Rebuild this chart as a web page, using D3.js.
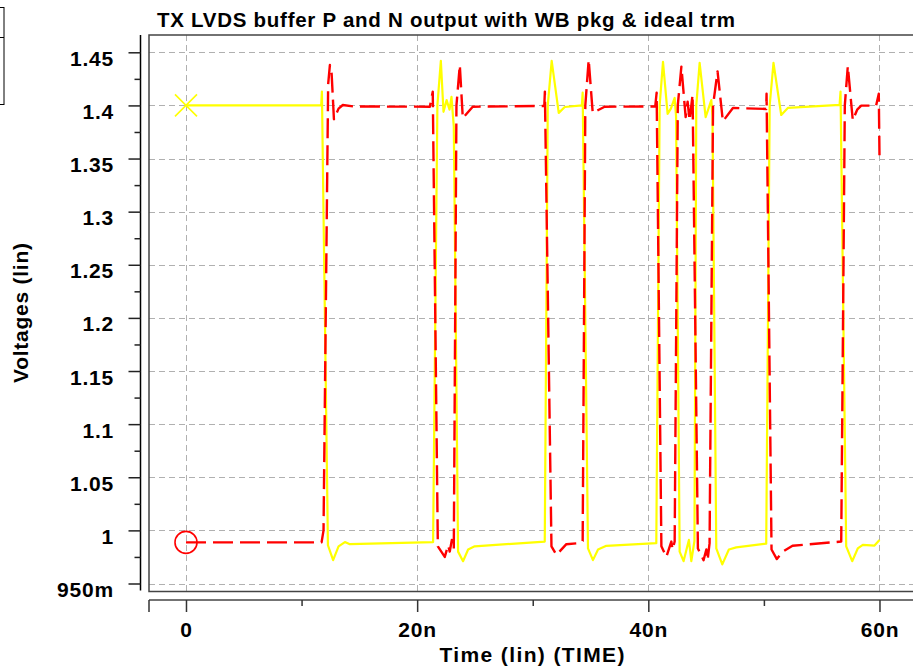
<!DOCTYPE html>
<html>
<head>
<meta charset="utf-8">
<script src="https://cdn.jsdelivr.net/npm/d3@7"></script>
<style>
  html, body { margin: 0; padding: 0; background: #fff; }
  svg { display: block; }
  text { font-family: "Liberation Sans", Arial, Helvetica, sans-serif; font-weight: bold; fill: #000; }
</style>
</head>
<body>
<svg id="chart" width="913" height="670"></svg>
<script>
// TX LVDS buffer P / N output waveforms (time in ns, voltage in V)

// P output (yellow, solid)
const pTime = [0, 11.70, 11.76, 12.28, 12.73, 13.20, 13.75, 14.18, 21.38, 21.75, 22.05, 22.28, 22.55, 22.80, 22.97, 23.17,
  23.54, 23.97, 24.41, 24.98, 31.04, 31.30, 31.64, 32.25, 32.77, 34.25, 34.32, 34.78, 35.21, 35.65, 36.37,
  40.69, 40.98, 41.27, 41.67, 41.95, 42.28, 42.40, 42.71, 43.05, 43.51, 43.72, 43.99, 44.15, 44.44, 44.96, 45.45, 45.55,
  45.88, 46.40, 46.97, 47.61, 50.20, 50.50, 50.83, 51.50, 52.07, 56.55, 56.63, 57.12, 57.64, 58.12, 58.56, 59.57, 60.00];
const pVolt = [1.400, 1.400, 1.413, 0.986, 0.972, 0.985, 0.989, 0.987, 0.989, 1.400, 1.442, 1.394, 1.405, 1.396, 1.408, 1.380,
  0.980, 0.971, 0.982, 0.985, 0.9895, 1.400, 1.442, 1.393, 1.3985, 1.400, 1.412, 0.983, 0.972, 0.982, 0.9855,
  0.988, 1.400, 1.441, 1.392, 1.397, 1.407, 1.390, 0.980, 0.971, 0.991, 0.971, 0.990, 1.400, 1.440, 1.389, 1.405, 1.390,
  0.983, 0.968, 0.982, 0.984, 0.9875, 1.400, 1.440, 1.391, 1.3976, 1.4005, 1.413, 0.985, 0.971, 0.983, 0.9864, 0.9857, 0.991];

// N output (red, dashed)
const nTime = [0, 11.73, 11.90, 12.30, 12.45, 12.60, 12.80, 13.20, 13.57, 14.50, 21.10, 21.35, 21.79, 22.39, 22.68, 22.82,
  23.00, 23.17, 23.40, 23.69, 23.95, 24.81, 31.00, 31.05, 31.62, 32.05, 32.91, 34.06, 34.32, 34.55, 34.84, 35.19, 36.22,
  40.60, 40.72, 41.13, 41.56, 41.99, 42.10, 42.28, 42.55, 42.86, 43.23, 43.40, 43.57, 43.83, 44.29, 44.78, 45.02, 45.13,
  45.30, 45.60, 45.99, 46.45, 47.32, 50.20, 50.23, 50.66, 51.12, 51.64, 52.48, 56.69, 57.00, 57.26, 57.69, 58.07, 58.42,
  59.71, 59.94, 60.00];
const nVolt = [0.9887, 0.9887, 1.000, 1.420, 1.438, 1.430, 1.387, 1.397, 1.4004, 1.399, 1.3988, 1.413, 0.985, 0.975, 0.986, 0.980,
  0.991, 0.982, 1.400, 1.438, 1.388, 1.3988, 1.3995, 1.413, 0.985, 0.977, 0.987, 0.988, 0.990, 1.400, 1.443, 1.393, 1.3988,
  1.399, 1.412, 0.985, 0.975, 0.9895, 0.982, 0.9895, 1.400, 1.4365, 1.389, 1.4035, 1.386, 1.410, 0.983, 0.972, 0.982, 0.972,
  0.988, 1.400, 1.432, 1.385, 1.3976, 1.3967, 1.411, 0.982, 0.973, 0.980, 0.9855, 0.9895, 1.400, 1.437, 1.386, 1.396, 1.3998,
  1.3998, 1.411, 1.353];

const yMajor = [0.95, 1.0, 1.05, 1.1, 1.15, 1.2, 1.25, 1.3, 1.35, 1.4, 1.45];
const yMinor = [0.975, 1.025, 1.075, 1.125, 1.175, 1.225, 1.275, 1.325, 1.375, 1.425];
const xMajor = [0, 20, 40, 60];
const xMinor = [10, 30, 50];

const titleText = "TX LVDS buffer P and N output with WB pkg & ideal trm";
const xTitle = "Time (lin) (TIME)";
const yTitle = "Voltages (lin)";

// layout
const frame = { left: 149, top: 35, right: 913, bottom: 591.5 };
const yAxisX = 140.5;
const xAxisY = 600;

const svg = d3.select("#chart");

const x = d3.scaleLinear().domain([-3.2, 62.9]).range([frame.left, frame.right]);
const y = d3.scaleLinear().domain([0.95, 1.45]).range([583.5, 52.3]);

// legend box remnant at top-left
svg.append("rect")
  .attr("x", -1).attr("y", 7.5).attr("width", 5).attr("height", 97)
  .attr("fill", "none").attr("stroke", "#000").attr("stroke-width", 1);
svg.append("line")
  .attr("x1", 0).attr("x2", 4).attr("y1", 37.5).attr("y2", 37.5)
  .attr("stroke", "#000").attr("stroke-width", 1);

// title
svg.append("text")
  .attr("x", 157).attr("y", 27)
  .attr("font-size", 20.5)
  .attr("textLength", 578).attr("lengthAdjust", "spacing")
  .text(titleText);

// grid
const grid = svg.append("g").attr("stroke", "#b0b0b0").attr("stroke-width", 1).attr("stroke-dasharray", "6,4");
grid.selectAll(".hg").data(yMajor).join("line")
  .attr("x1", frame.left).attr("x2", frame.right)
  .attr("y1", d => Math.round(y(d)) + 0.5).attr("y2", d => Math.round(y(d)) + 0.5);
grid.selectAll(".vg").data(xMajor).join("line")
  .attr("x1", d => Math.round(x(d)) + 0.5).attr("x2", d => Math.round(x(d)) + 0.5)
  .attr("y1", frame.top).attr("y2", frame.bottom);

// plot frame (left, top, bottom)
svg.append("path")
  .attr("d", `M${frame.right},${frame.top}H${frame.left}V${frame.bottom}H${frame.right}`)
  .attr("fill", "none").attr("stroke", "#444").attr("stroke-width", 1.5);

// y axis
svg.append("line")
  .attr("x1", yAxisX).attr("x2", yAxisX).attr("y1", frame.top).attr("y2", frame.bottom - 1)
  .attr("stroke", "#000").attr("stroke-width", 1.5);

const yAx = svg.append("g").attr("transform", `translate(${yAxisX},0)`)
  .call(d3.axisLeft(y).tickValues(yMajor).tickSize(12).tickSizeOuter(0)
    .tickFormat(d => d === 0.95 ? "950m" : d3.format("~g")(d)));
yAx.select(".domain").remove();
yAx.selectAll(".tick line").attr("stroke", "#222").attr("stroke-width", 1.5);
yAx.selectAll(".tick text")
  .attr("x", -26.5).attr("dy", null).attr("y", 13)
  .attr("font-size", 21).attr("letter-spacing", 0.8)
  .attr("fill", "#000").attr("font-family", null);

const yAxMinor = svg.append("g").attr("transform", `translate(${yAxisX},0)`)
  .call(d3.axisLeft(y).tickValues(yMinor).tickSize(6).tickSizeOuter(0).tickFormat(""));
yAxMinor.select(".domain").remove();
yAxMinor.selectAll(".tick line").attr("stroke", "#222").attr("stroke-width", 1.5);

// x axis
svg.append("line")
  .attr("x1", frame.left).attr("x2", frame.right).attr("y1", xAxisY).attr("y2", xAxisY)
  .attr("stroke", "#444").attr("stroke-width", 1.5);
svg.append("line")
  .attr("x1", frame.left).attr("x2", frame.left).attr("y1", xAxisY).attr("y2", xAxisY + 12)
  .attr("stroke", "#333").attr("stroke-width", 1.5);

const xAx = svg.append("g").attr("transform", `translate(0,${xAxisY})`)
  .call(d3.axisBottom(x).tickValues(xMajor).tickSize(12).tickSizeOuter(0)
    .tickFormat(d => d === 0 ? "0" : d + "n"));
xAx.select(".domain").remove();
xAx.selectAll(".tick line").attr("stroke", "#333").attr("stroke-width", 1.5);
xAx.selectAll(".tick text")
  .attr("y", 37).attr("dy", null)
  .attr("font-size", 21).attr("letter-spacing", 0.8)
  .attr("fill", "#000").attr("font-family", null);

const xAxMinor = svg.append("g").attr("transform", `translate(0,${xAxisY})`)
  .call(d3.axisBottom(x).tickValues(xMinor).tickSize(6).tickSizeOuter(0).tickFormat(""));
xAxMinor.select(".domain").remove();
xAxMinor.selectAll(".tick line").attr("stroke", "#333").attr("stroke-width", 1.5);

// axis titles
svg.append("text")
  .attr("x", 532).attr("y", 661.5)
  .attr("text-anchor", "middle").attr("font-size", 21)
  .attr("textLength", 185).attr("lengthAdjust", "spacing")
  .text(xTitle);

svg.append("text")
  .attr("transform", "translate(28,313) rotate(-90)")
  .attr("text-anchor", "middle").attr("font-size", 21)
  .attr("textLength", 140).attr("lengthAdjust", "spacing")
  .text(yTitle);

// waveforms
svg.append("clipPath").attr("id", "plot-clip")
  .append("rect")
  .attr("x", frame.left).attr("y", frame.top)
  .attr("width", frame.right - frame.left).attr("height", frame.bottom - frame.top);

const line = d3.line().x(d => x(d[0])).y(d => y(d[1]));
const plotG = svg.append("g").attr("clip-path", "url(#plot-clip)");

plotG.append("path")
  .datum(d3.zip(pTime, pVolt))
  .attr("d", line)
  .attr("fill", "none").attr("stroke", "#ffff00").attr("stroke-width", 2.2)
  .attr("stroke-linejoin", "round");

plotG.append("path")
  .datum(d3.zip(nTime, nVolt))
  .attr("d", line)
  .attr("fill", "none").attr("stroke", "#ff0000").attr("stroke-width", 2.4)
  .attr("stroke-dasharray", "20,7")
  .attr("stroke-linejoin", "round");

// start markers
const px0 = x(pTime[0]), py0 = y(pVolt[0]);
svg.append("path")
  .attr("d", `M${px0 - 11},${py0 - 11}L${px0 + 11},${py0 + 11}M${px0 - 11},${py0 + 11}L${px0 + 11},${py0 - 11}`)
  .attr("stroke", "#ffff00").attr("stroke-width", 1.6).attr("fill", "none");

svg.append("circle")
  .attr("cx", x(nTime[0])).attr("cy", y(nVolt[0])).attr("r", 11)
  .attr("fill", "none").attr("stroke", "#ff0000").attr("stroke-width", 1.6);
</script>
</body>
</html>
